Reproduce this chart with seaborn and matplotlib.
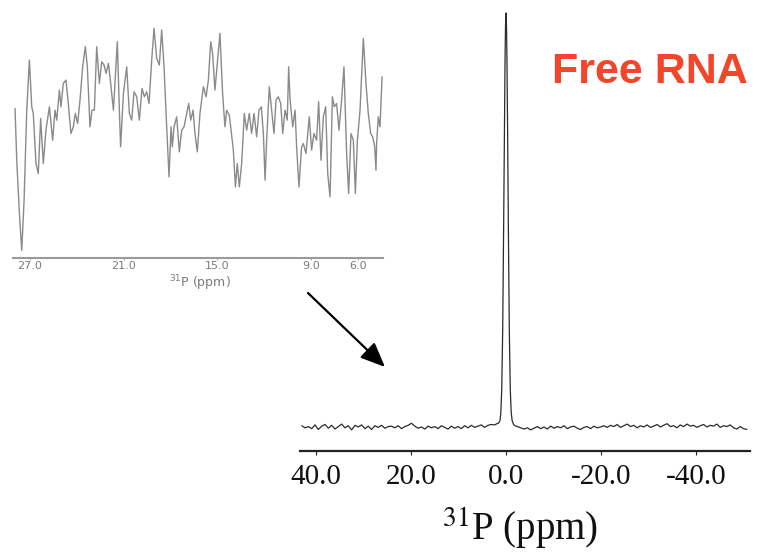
import matplotlib
matplotlib.use("Agg")
import matplotlib.pyplot as plt
import seaborn as sns
import numpy as np
from matplotlib.font_manager import FontProperties

sns.set_style("white")
plt.rcParams['font.family'] = ['DejaVu Sans']

# ---------------- data: main 31P spectrum ----------------
base_left_ppm = [43.0, 42.3, 41.6, 40.9, 40.2, 39.5, 38.8, 38.1, 37.4, 36.7,
                 36.0, 35.3, 34.6, 33.9, 33.2, 32.5, 31.8, 31.1, 30.4, 29.7,
                 29.0, 28.3, 27.6, 26.9, 26.2, 25.5, 24.8, 24.1, 23.4, 22.7,
                 22.0, 21.3, 20.6, 19.9, 19.2, 18.5, 17.8, 17.1, 16.4, 15.7,
                 15.0, 14.3, 13.6, 12.9, 12.2, 11.5, 10.8, 10.1, 9.4, 8.7,
                 8.0, 7.3, 6.6, 5.9, 5.2, 4.5, 3.8, 3.1, 2.4, 1.9]
base_left_int = [0.3, -0.2, 0.1, -0.4, 0.5, -0.6, 0.2, 0.6, -0.3, 0.4,
                 -0.5, 0.1, 0.7, -0.2, 0.3, -0.7, 0.4, 0.0, 0.5, -0.4,
                 0.2, -0.6, 0.3, -0.1, 0.4, -0.3, 0.1, 0.2, -0.2, 0.3,
                 -0.4, 0.1, 0.4, 0.9, 0.2, -0.3, 0.0, -0.5, 0.2, -0.2,
                 0.1, -0.4, 0.3, -0.1, -0.5, 0.2, -0.3, 0.1, -0.4, 0.3,
                 -0.2, 0.4, -0.1, 0.2, 0.5, -0.1, 0.4, 0.6, 0.5, 0.8]
peak_ppm = [1.6, 1.3, 1.1, 0.9, 0.7, 0.5, 0.35, 0.2, 0.1, 0.0,
            -0.1, -0.2, -0.35, -0.5, -0.7, -0.9, -1.1, -1.3, -1.6]
peak_int = [0.9, 1.4, 3.2, 9.0, 23.0, 48.0, 70.0, 89.0, 97.0, 100.0,
            97.0, 89.0, 70.0, 48.0, 23.0, 9.0, 3.4, 1.5, 0.6]
base_right_ppm = [-1.9, -2.4, -3.1, -3.8, -4.5, -5.2, -5.9, -6.6, -7.3, -8.0,
                  -8.7, -9.4, -10.1, -10.8, -11.5, -12.2, -12.9, -13.6, -14.3, -15.0,
                  -15.7, -16.4, -17.1, -17.8, -18.5, -19.2, -19.9, -20.6, -21.3, -22.0,
                  -22.7, -23.4, -24.1, -24.8, -25.5, -26.2, -26.9, -27.6, -28.3, -29.0,
                  -29.7, -30.4, -31.1, -31.8, -32.5, -33.2, -33.9, -34.6, -35.3, -36.0,
                  -36.7, -37.4, -38.1, -38.8, -39.5, -40.2, -40.9, -41.6, -42.3, -43.0,
                  -43.7, -44.4, -45.1, -45.8, -46.5, -47.2, -47.9, -48.6, -49.3, -50.0,
                  -50.7]
base_right_int = [0.3, 0.1, -0.2, -0.5, -0.2, -0.7, -0.3, 0.1, -0.4, 0.0,
                  -0.5, 0.2, -0.3, 0.1, -0.2, 0.3, -0.4, 0.0, 0.2, -0.3,
                  -0.6, -0.1, 0.1, -0.4, 0.2, -0.2, 0.0, 0.3, -0.1, 0.4,
                  0.1, 0.6, -0.1, 0.3, 0.7, 0.1, 0.4, -0.2, 0.3, 0.0,
                  0.5, -0.1, 0.2, 0.6, 0.0, 0.4, 0.8, 0.1, 0.3, -0.2,
                  0.5, 0.1, 0.7, 0.2, 0.4, -0.1, 0.3, 0.6, 0.0, 0.4,
                  0.2, 0.7, -0.1, 0.3, 0.1, 0.5, -0.2, -0.5, 0.1, -0.4,
                  -0.6]
main_ticks = [40, 20, 0, -20, -40]
main_tick_labels = ["40.0", "20.0", "0.0", "-20.0", "-40.0"]

# ---------------- data: inset (expanded noise region) ----------------
inset_ppm = [27.96, 27.85, 27.68, 27.53, 27.38, 27.21, 27.04, 26.89, 26.79, 26.62,
             26.47, 26.32, 26.15, 25.98, 25.76, 25.55, 25.40, 25.29, 25.12, 25.02,
             24.87, 24.70, 24.55, 24.38, 24.23, 24.10, 23.95, 23.80, 23.63, 23.46,
             23.33, 23.16, 23.03, 22.88, 22.73, 22.56, 22.41, 22.26, 22.13, 21.98,
             21.88, 21.66, 21.41, 21.28, 21.20, 21.02, 20.81, 20.64, 20.49, 20.34,
             20.17, 20.00, 19.83, 19.68, 19.53, 19.38, 19.21, 19.06, 18.89, 18.72,
             18.57, 18.42, 18.25, 18.10, 17.97, 17.89, 17.78, 17.61, 17.44, 17.29,
             17.14, 16.97, 16.84, 16.71, 16.56, 16.44, 16.29, 16.12, 15.90, 15.73,
             15.58, 15.43, 15.31, 15.16, 14.99, 14.84, 14.67, 14.52, 14.41, 14.24,
             14.09, 13.98, 13.85, 13.73, 13.60, 13.45, 13.28, 13.13, 12.96, 12.81,
             12.66, 12.49, 12.34, 12.19, 12.06, 11.95, 11.85, 11.68, 11.53, 11.38,
             11.25, 11.10, 10.95, 10.82, 10.67, 10.53, 10.44, 10.35, 10.18, 10.03,
             9.93, 9.78, 9.61, 9.50, 9.33, 9.12, 8.97, 8.82, 8.65, 8.52,
             8.37, 8.22, 8.07, 7.94, 7.79, 7.64, 7.52, 7.37, 7.22, 7.05,
             6.90, 6.73, 6.60, 6.45, 6.30, 6.17, 6.04, 5.87, 5.66, 5.49,
             5.34, 5.19, 5.06, 4.93, 4.85, 4.81, 4.70, 4.59, 4.46]
inset_int = [44.8, 29.3, 13.3, 2.3, 17.3, 44.3, 59.3, 45.3, 43.3, 28.3,
             25.3, 41.8, 28.3, 38.3, 45.3, 35.3, 44.3, 41.3, 50.3, 45.3,
             52.3, 53.3, 46.3, 37.3, 39.3, 43.3, 40.3, 47.3, 57.3, 63.3,
             57.3, 39.3, 44.3, 44.3, 63.3, 52.3, 58.8, 57.8, 55.3, 58.3,
             54.3, 44.3, 64.8, 44.3, 33.3, 49.3, 57.3, 43.3, 41.3, 49.8,
             48.3, 41.3, 50.8, 48.3, 49.8, 46.3, 59.3, 68.8, 59.8, 57.8,
             68.3, 57.3, 39.3, 24.3, 39.3, 33.3, 39.3, 42.3, 31.8, 38.3,
             39.3, 43.3, 46.3, 41.3, 44.3, 37.3, 31.8, 43.3, 51.3, 48.3,
             53.3, 64.8, 61.3, 50.3, 59.3, 67.3, 49.3, 39.3, 44.3, 42.8,
             36.8, 32.3, 21.3, 28.3, 21.3, 28.3, 43.3, 38.3, 43.3, 37.3,
             43.3, 36.3, 44.3, 45.3, 37.3, 23.3, 35.3, 51.3, 44.3, 37.3,
             47.3, 48.3, 46.3, 37.3, 44.3, 41.3, 57.3, 47.3, 39.3, 44.3,
             33.3, 21.3, 33.3, 34.3, 31.3, 42.3, 32.3, 37.3, 35.3, 46.8,
             29.3, 42.3, 45.3, 25.3, 18.3, 48.3, 45.3, 46.3, 38.3, 47.3,
             57.3, 31.3, 19.3, 37.3, 35.3, 19.3, 35.3, 44.3, 65.8, 52.3,
             43.3, 37.3, 36.3, 33.3, 26.3, 34.3, 42.3, 39.3, 54.3]
inset_ticks = [27, 21, 15, 9, 6]
inset_tick_labels = ["27.0", "21.0", "15.0", "9.0", "6.0"]

main_ppm = base_left_ppm + peak_ppm + base_right_ppm
main_int = base_left_int + peak_int + base_right_int

W, H = 759, 552
fig = plt.figure(figsize=(W / 100, H / 100), dpi=100)

def fx(px):
    return px / W

def fy(py):
    return 1 - py / H

# ---------------- main axes ----------------
ax = fig.add_axes([fx(300), fy(451), fx(750) - fx(300), fy(10) - fy(451)])
sns.lineplot(x=main_ppm, y=main_int, ax=ax, color="#2b2b2b", linewidth=0.9,
             estimator=None, sort=False)
ax.set_xlim(43.37, -51.37)
ax.set_ylim(-5.8, 100.7)
for s in ["left", "right", "top"]:
    ax.spines[s].set_visible(False)
ax.spines["bottom"].set_color("#222222")
ax.spines["bottom"].set_linewidth(1.6)
ax.set_yticks([])
ax.set_xticks(main_ticks)
ax.set_xticklabels(main_tick_labels, fontfamily="Liberation Serif", fontsize=21)
ax.tick_params(axis="x", direction="out", length=3, width=0.8, color="#222222",
               pad=6.5, labelcolor="#111111", bottom=True)
ax.patch.set_alpha(0)

fp_main = FontProperties(family="Liberation Serif", size=28, math_fontfamily="stix")
fig.text(fx(520), fy(541), r"$^{31}$P (ppm)", ha="center", va="baseline",
         fontproperties=fp_main, color="#111111")

# ---------------- inset axes ----------------
ins = fig.add_axes([fx(13), fy(258), fx(383) - fx(13), fy(20) - fy(258)])
sns.lineplot(x=inset_ppm, y=inset_int, ax=ins, color="#8a8a8a", linewidth=1.0,
             estimator=None, sort=False)
ins.set_xlim(28.09, 4.40)
ins.set_ylim(0, 71.3)
for s in ["left", "right", "top"]:
    ins.spines[s].set_visible(False)
ins.spines["bottom"].set_color("#9a9a9a")
ins.spines["bottom"].set_linewidth(1.5)
ins.set_yticks([])
ins.set_xticks(inset_ticks)
ins.set_xticklabels(inset_tick_labels, fontfamily="DejaVu Sans", fontsize=8)
ins.tick_params(axis="x", direction="out", length=1.5, width=0.6, color="#9a9a9a",
                pad=0.6, labelcolor="#7a7a7a", bottom=True)
ins.patch.set_alpha(0)
fp_ins = FontProperties(family="DejaVu Sans", size=9, math_fontfamily="dejavusans")
fig.text(fx(200), fy(287), r"$^{31}$P (ppm)", ha="center", va="baseline",
         fontproperties=fp_ins, color="#7a7a7a")

# ---------------- arrow & title ----------------
ax.annotate("", xy=(fx(385), fy(367)), xycoords="figure fraction",
            xytext=(fx(308), fy(293)), textcoords="figure fraction",
            arrowprops=dict(arrowstyle="-|>,head_length=0.75,head_width=0.32",
                            mutation_scale=20, color="black", lw=1.6,
                            shrinkA=0, shrinkB=0),
            annotation_clip=False)

fig.text(fx(552), fy(83), "Free RNA", ha="left", va="baseline",
         fontfamily="Liberation Sans", fontweight="bold", fontsize=31,
         color="#F2462B")

fig.savefig("out.png", dpi=100)
